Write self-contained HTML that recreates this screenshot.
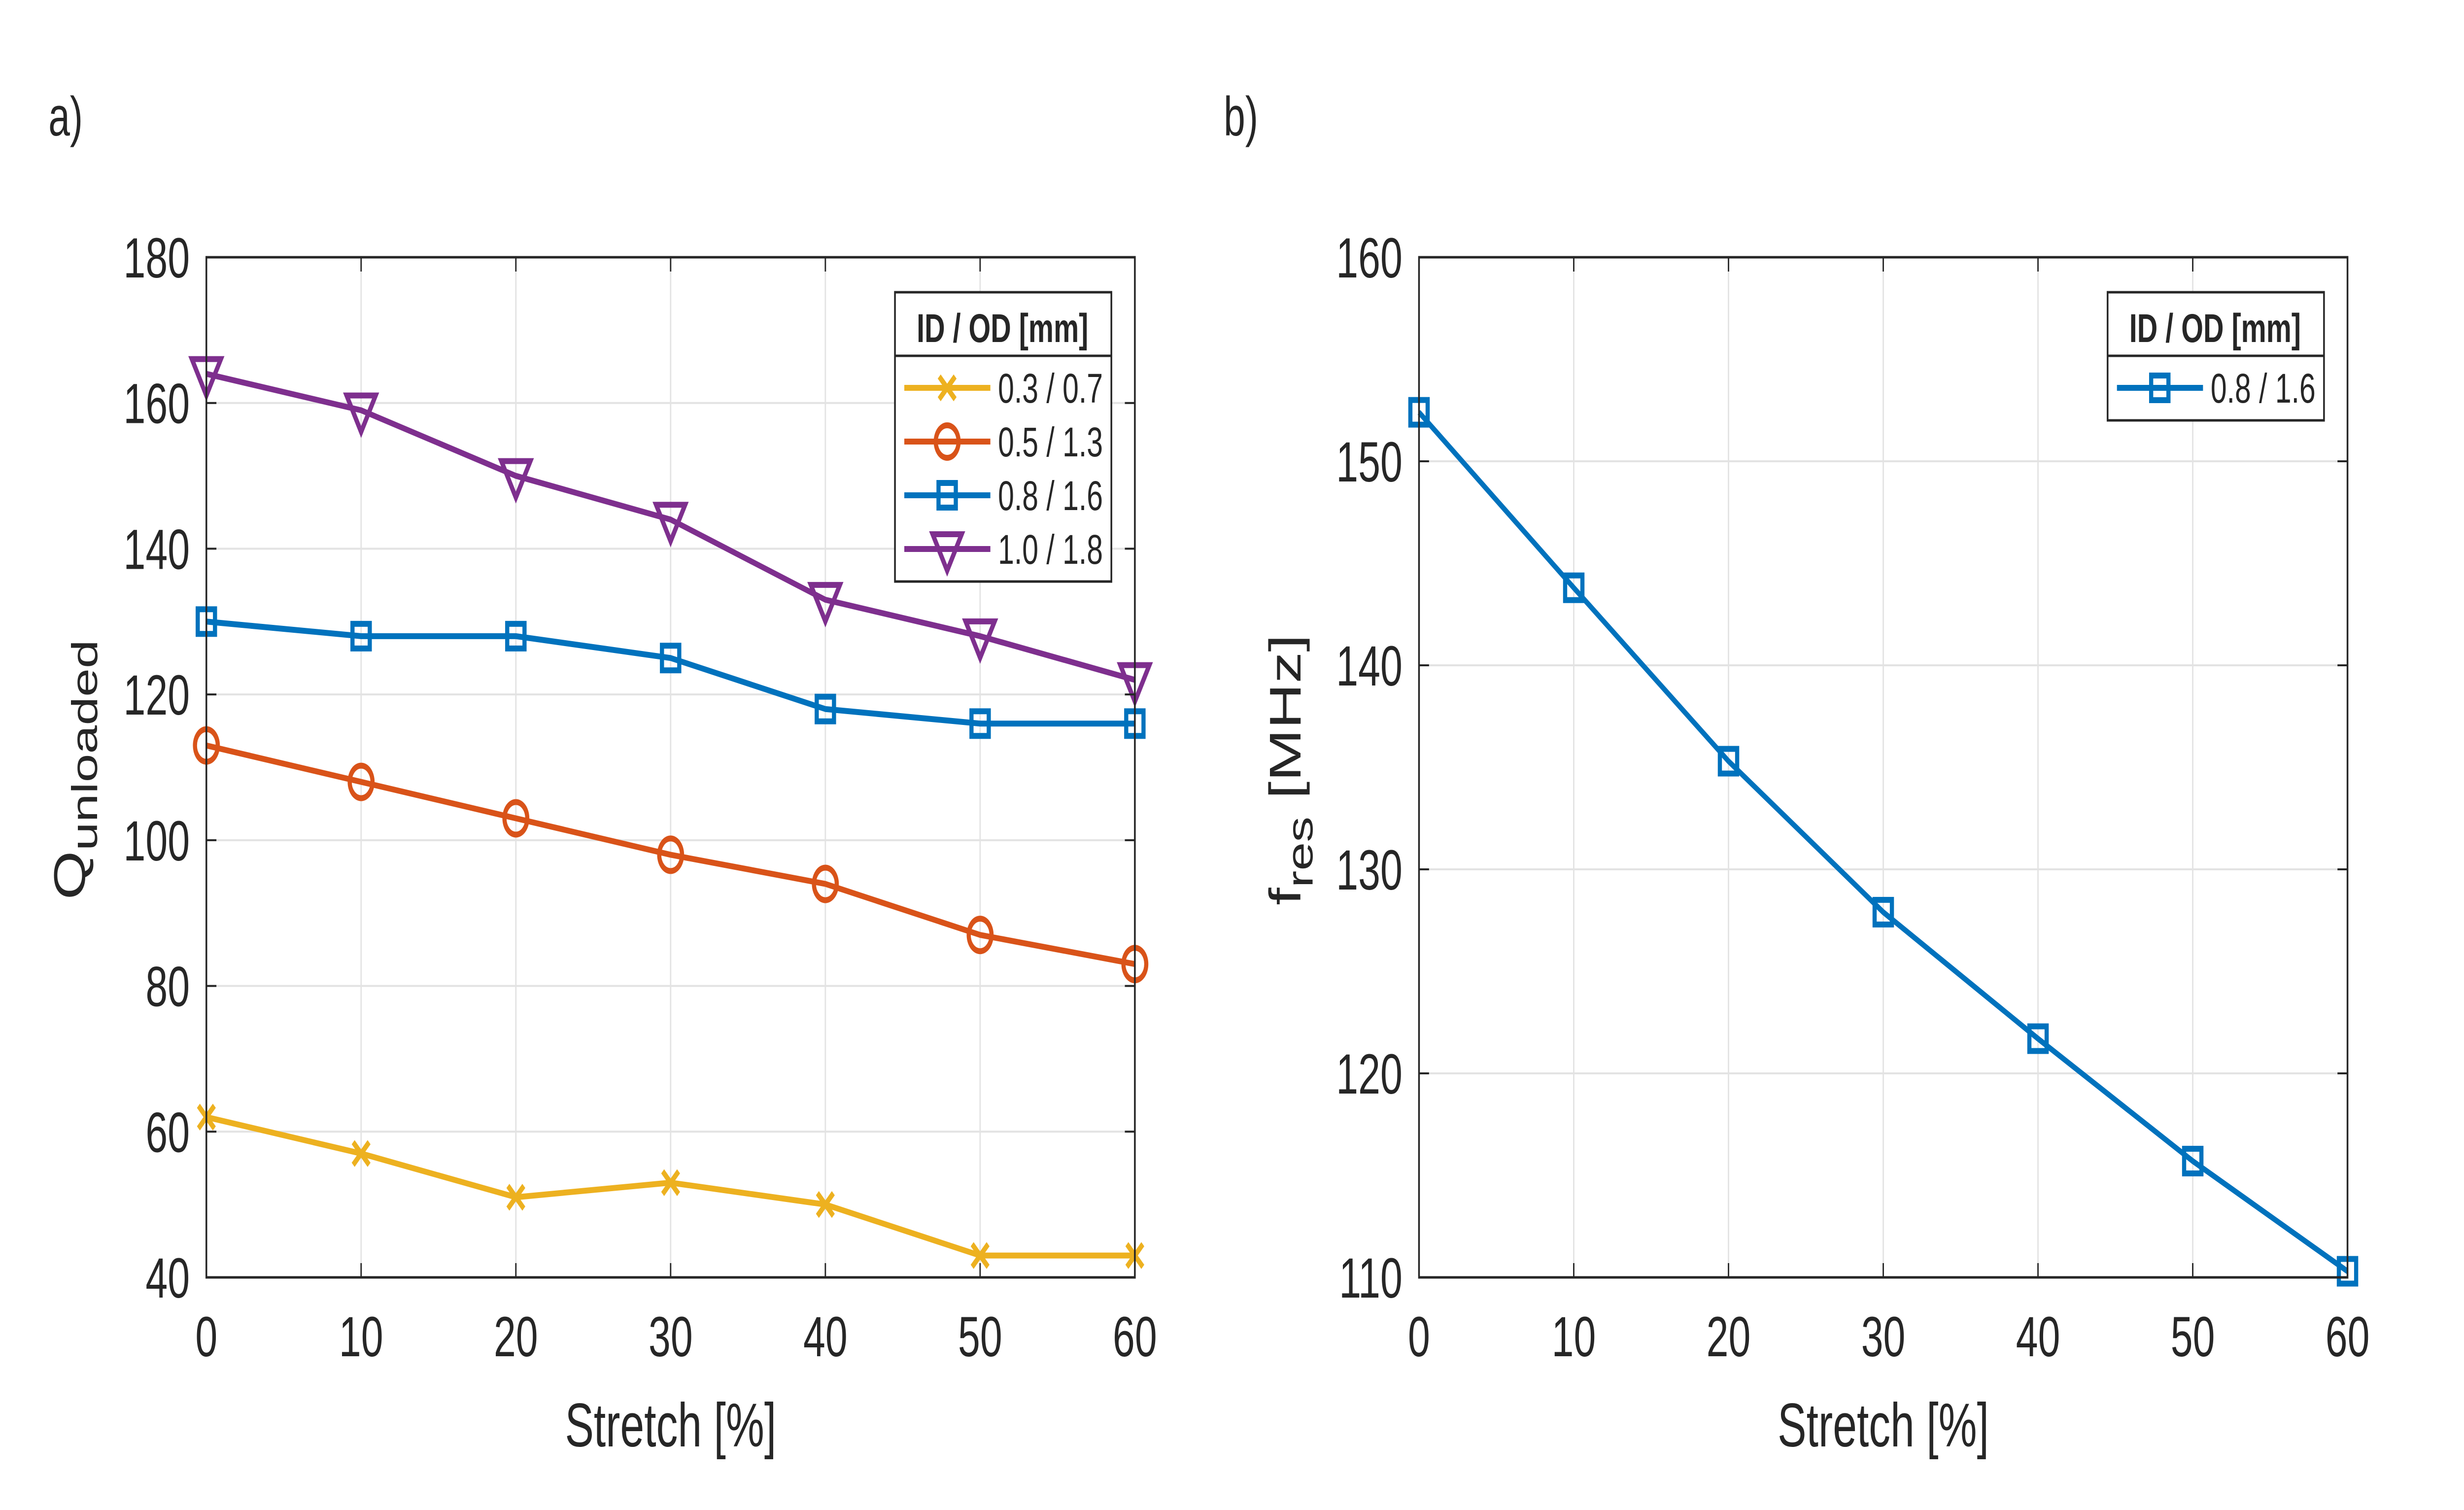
<!DOCTYPE html>
<html><head><meta charset="utf-8"><style>
html,body{margin:0;padding:0;background:#fff;width:100%;height:100%;overflow:hidden}
svg{display:block;position:absolute;left:0;top:0;width:100vw;height:100vh}
text{font-family:"Liberation Sans",sans-serif;fill:#262626}
</style></head><body>
<svg id="fig" viewBox="0 0 7128 3064" preserveAspectRatio="none" xmlns="http://www.w3.org/2000/svg">
<text x="140" y="275" font-size="112" fill="#000">a)</text>
<text x="3540" y="275" font-size="112" fill="#000">b)</text>
<g id="pa"></g>
<g id="pb"></g>
</svg>
<script>
const stretchCategories=[0,10,20,30,40,50,60];
const q_03_07=[62,57,51,53,50,43,43];
const q_05_13=[113,108,103,98,94,87,83];
const q_08_16=[130,128,128,125,118,116,116];
const q_10_18=[164,159,150,144,133,128,122];
const fres_08_16=[152.4,143.8,135.3,127.9,121.7,115.7,110.3];
const xTicks=[0,10,20,30,40,50,60];
const yTicksA=[40,60,80,100,120,140,160,180];
const yTicksB=[110,120,130,140,150,160];
const legendLabelsA=["0.3 / 0.7","0.5 / 1.3","0.8 / 1.6","1.0 / 1.8"];
const legendLabelsB=["0.8 / 1.6"];

const NS="http://www.w3.org/2000/svg";
function mk(parent,tag,attrs){const e=document.createElementNS(NS,tag);for(const k in attrs)e.setAttribute(k,attrs[k]);parent.appendChild(e);return e;}

function marker(g,type,cx,cy,color){
  let e;
  if(type==="x"){
    e=mk(g,"path",{d:`M${cx-23},${cy-23}L${cx+23},${cy+23}M${cx-23},${cy+23}L${cx+23},${cy-23}`,stroke:color,"stroke-width":12,fill:"none"});
  }else if(type==="o"){
    e=mk(g,"circle",{cx:cx,cy:cy,r:33,stroke:color,"stroke-width":12,fill:"none"});
  }else if(type==="s"){
    e=mk(g,"rect",{x:cx-25,y:cy-25,width:50,height:50,stroke:color,"stroke-width":12,fill:"none"});
  }else{
    e=mk(g,"path",{d:`M${cx-42},${cy-30}L${cx+42},${cy-30}L${cx},${cy+44}Z`,stroke:color,"stroke-width":12,fill:"none","stroke-linejoin":"miter"});
  }
  
  
  return e;
}

function drawChart(g,opt){
  const L=opt.x0,R=opt.x0+2686,T=522,B=2592;
  const xs=v=>L+(v-0)/(60-0)*(R-L);
  const ys=v=>B-(v-opt.ymin)/(opt.ymax-opt.ymin)*(B-T);
  const grid=mk(g,"g",{});
  
  
  xTicks.forEach(t=>{const l=mk(grid,"line",{x1:xs(t),x2:xs(t),y1:T,y2:B,stroke:"#e3e3e3","stroke-width":4});});
  opt.yticks.forEach(t=>{const l=mk(grid,"line",{x1:L,x2:R,y1:ys(t),y2:ys(t),stroke:"#e3e3e3","stroke-width":4});});
  opt.series.forEach((s,i)=>{
    const sg=mk(g,"g",{});
    
    
    const pts=stretchCategories.map((c,j)=>xs(c)+","+ys(s.values[j])).join(" ");
    const pl=mk(sg,"polyline",{points:pts,fill:"none",stroke:s.color,"stroke-width":12,"stroke-linejoin":"round"});
    
    
    stretchCategories.forEach((c,j)=>marker(sg,s.marker,xs(c),ys(s.values[j]),s.color));
  });
  const ax=mk(g,"rect",{x:L,y:T,width:R-L,height:B-T,fill:"none",stroke:"#262626","stroke-width":5});
  
  
  xTicks.forEach(t=>{
    mk(g,"line",{x1:xs(t),x2:xs(t),y1:B,y2:B-29,stroke:"#262626","stroke-width":4});
    mk(g,"line",{x1:xs(t),x2:xs(t),y1:T,y2:T+29,stroke:"#262626","stroke-width":4});
    const tx=mk(g,"text",{x:xs(t),y:2752,"font-size":115,"text-anchor":"middle"});
    tx.textContent=t;
    
    
  });
  opt.yticks.forEach(t=>{
    mk(g,"line",{x1:L,x2:L+29,y1:ys(t),y2:ys(t),stroke:"#262626","stroke-width":4});
    mk(g,"line",{x1:R,x2:R-29,y1:ys(t),y2:ys(t),stroke:"#262626","stroke-width":4});
    const tx=mk(g,"text",{x:L-48,y:ys(t)+41,"font-size":115,"text-anchor":"end"});
    tx.textContent=t;
    
    
  });
  const xt=mk(g,"text",{x:(L+R)/2,y:2935,"font-size":125,"text-anchor":"middle"});
  xt.textContent="Stretch [%]";
  
  
  const yt=mk(g,"text",{transform:`translate(${opt.ylx},1562) rotate(-90)`,"font-size":128,"text-anchor":"middle"});
  yt.innerHTML=opt.ylabel;
  
  
  const n=opt.series.length;
  const lx=R-694,lw=626,ly=593;
  const lg=mk(g,"g",{});
  
  
  mk(lg,"rect",{x:lx,y:ly,width:lw,height:(787-593)+109*(n-1)+66,fill:"#fff",stroke:"#262626","stroke-width":5});
  mk(lg,"line",{x1:lx,x2:lx+lw,y1:722,y2:722,stroke:"#262626","stroke-width":5});
  const lt=mk(lg,"text",{x:lx+311,y:694,"font-size":82,"font-weight":"bold","text-anchor":"middle",fill:"#000"});
  lt.textContent="ID / OD [mm]";
  
  
  opt.series.forEach((s,i)=>{
    const y=787+109*i;
    const eg=mk(lg,"g",{});
    
    
    mk(eg,"line",{x1:lx+27,x2:lx+276,y1:y,y2:y,stroke:s.color,"stroke-width":12});
    marker(eg,s.marker,lx+151,y,s.color);
    const t=mk(eg,"text",{x:lx+298,y:y+30,"font-size":84,fill:"#000"});
    t.textContent=opt.labels[i];
    
    
  });
}

drawChart(document.getElementById("pa"),{
  x0:597,ymin:40,ymax:180,yticks:yTicksA,ylx:246,labels:legendLabelsA,
  ylabel:'Q<tspan dy="35" font-size="104">unloaded</tspan>',
  series:[
    {name:"0.3-0.7",values:q_03_07,color:"#EDB120",marker:"x"},
    {name:"0.5-1.3",values:q_05_13,color:"#D95319",marker:"o"},
    {name:"0.8-1.6",values:q_08_16,color:"#0072BD",marker:"s"},
    {name:"1.0-1.8",values:q_10_18,color:"#7E2F8E",marker:"v"}
  ]});
drawChart(document.getElementById("pb"),{
  x0:4105,ymin:110,ymax:160,yticks:yTicksB,ylx:3762,labels:legendLabelsB,
  ylabel:'f<tspan dy="35" font-size="104">res</tspan><tspan dy="-35"> [MHz]</tspan>',
  series:[{name:"fres-0.8-1.6",values:fres_08_16,color:"#0072BD",marker:"s"}]});
</script>
</body></html>
